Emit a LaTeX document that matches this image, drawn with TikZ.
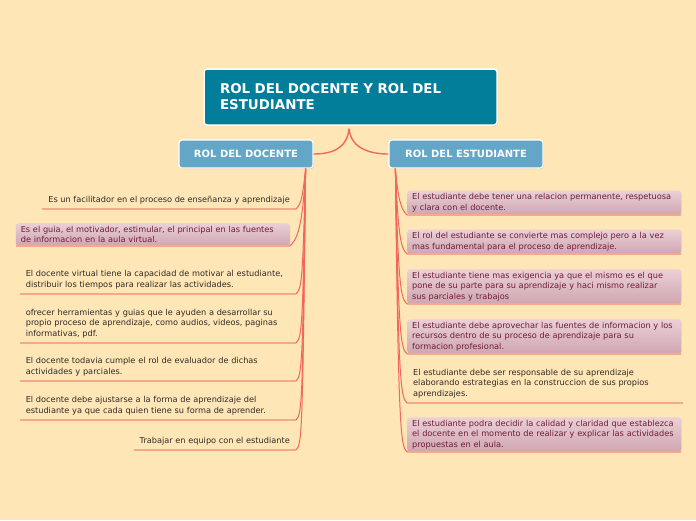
\documentclass[tikz,border=0pt]{standalone}
\usepackage{fontspec}
\setmainfont{DejaVu Sans}
\usepackage{xcolor}
\usetikzlibrary{positioning,calc,shadows}

\definecolor{paper}{HTML}{FFE6B6}
\definecolor{rootteal}{HTML}{037E9A}
\definecolor{branchblue}{HTML}{64A6C8}
\definecolor{linkred}{HTML}{F2675C}
\definecolor{linepeach}{HTML}{F7A88C}
\definecolor{boxtop}{HTML}{EBD0D5}
\definecolor{boxbot}{HTML}{CFA6B1}
\definecolor{wine}{HTML}{6C1D36}
\definecolor{ink}{HTML}{2E2A26}

\begin{document}
\begin{tikzpicture}[
  x=1pt, y=-1pt,
  rootbox/.style={draw=white, line width=1.5pt, fill=rootteal, rounded corners=3pt,
                  minimum width=293pt, minimum height=56pt, inner xsep=15pt,
                  text width=261pt, align=left, text=white,
                  font=\fontsize{13.4}{16}\selectfont\bfseries,
                  drop shadow={opacity=0.3, shadow xshift=0.8pt, shadow yshift=-1pt}},
  branchbox/.style={draw=white, line width=1.2pt, fill=branchblue, rounded corners=3pt,
                    minimum height=28pt, text=white,
                    font=\fontsize{10}{12}\selectfont\bfseries,
                    drop shadow={opacity=0.3, shadow xshift=0.8pt, shadow yshift=-1pt}},
  leaf/.style={text=ink, inner xsep=6pt, inner ysep=5pt, align=left,
               font=\fontsize{8.2}{10.3}\selectfont},
  % shaded leaves share the leaf font, only the colours change
  lbox/.style={leaf, text=wine, inner xsep=5pt, inner ysep=3pt, rounded corners=3pt,
               top color=boxtop, bottom color=boxbot,
               drop shadow={opacity=0.2, shadow xshift=0.5pt, shadow yshift=-0.8pt}},
  link/.style={draw=linkred, line width=1pt},
  rootlink/.style={draw=linkred, line width=1.4pt},
  uline/.style={draw=linepeach, line width=1.2pt},
]

\useasboundingbox[fill=paper] (0,0) rectangle (696,520);

%%---- Root and branches ---------------------------------------------
\node[rootbox] (root) at (350.5,97) {ROL DEL DOCENTE Y ROL DEL\\ESTUDIANTE};

\node[branchbox, minimum width=134pt] (doc) at (246,154) {ROL DEL DOCENTE};
\node[branchbox, minimum width=154pt] (est) at (466,154) {ROL DEL ESTUDIANTE};

\coordinate (rootTip) at ($(root.south)+(-1.5,3)$);
\draw[rootlink] (rootTip) .. controls ($(rootTip)+(-2,20)$) and ($(doc.east)+(18,0)$) .. (doc.east);
\draw[rootlink] (rootTip) .. controls ($(rootTip)+(2,20)$) and ($(est.west)+(-18,0)$) .. (est.west);

%%---- Left side: docente --------------------------------------------
\node[leaf, anchor=south east] (d1) at (296,209)
  {Es un facilitador en el proceso de enseñanza y aprendizaje};
\node[lbox, anchor=south east, text width=264pt] (d2) at (290,246)
  {Es el guia, el motivador, estimular, el principal en las fuentes\\de informacion en la aula virtual.};
\node[leaf, anchor=south east, text width=264pt] (d3) at (296,294)
  {El docente virtual tiene la capacidad de motivar al estudiante,\\distribuir los tiempos para realizar las actividades.};
\node[leaf, anchor=south east, text width=264pt] (d4) at (296,343)
  {ofrecer herramientas y guias que le ayuden a desarrollar su\\propio proceso de aprendizaje, como audios, videos, paginas\\informativas, pdf.};
\node[leaf, anchor=south east, text width=264pt] (d5) at (296,381)
  {El docente todavia cumple el rol de evaluador de dichas\\actividades y parciales.};
\node[leaf, anchor=south east, text width=264pt] (d6) at (296,420)
  {El docente debe ajustarse a la forma de aprendizaje del\\estudiante ya que cada quien tiene su forma de aprender.};
\node[leaf, anchor=south east] (d7) at (296,450)
  {Trabajar en equipo con el estudiante};

\coordinate (docOut) at ($(doc.south east)+(-8,0)$);
\foreach \n in {d1,d2,d3,d4,d5,d6,d7}{
  \draw[uline] (\n.south west) -- (\n.south east);
  \draw[link] (docOut) .. controls ($(docOut |- \n.south)+(-3,-14)$)
    and ($(\n.south east)+(6,-6)$) .. (\n.south east);
}

%%---- Right side: estudiante ----------------------------------------
\node[lbox, anchor=south west, text width=264pt] (e1) at (407,215)
  {El estudiante debe tener una relacion permanente, respetuosa\\y clara con el docente.};
\node[lbox, anchor=south west, text width=264pt] (e2) at (407,254)
  {El rol del estudiante se convierte mas complejo pero a la vez\\mas fundamental para el proceso de aprendizaje.};
\node[lbox, anchor=south west, text width=264pt] (e3) at (407,304)
  {El estudiante tiene mas exigencia ya que el mismo es el que\\pone de su parte para su aprendizaje y haci mismo realizar\\sus parciales y trabajos};
\node[lbox, anchor=south west, text width=264pt] (e4) at (407,354)
  {El estudiante debe aprovechar las fuentes de informacion y los\\recursos dentro de su proceso de aprendizaje para su\\formacion profesional.};
\node[leaf, anchor=south west, text width=264pt] (e5) at (407,403)
  {El estudiante debe ser responsable de su aprendizaje\\elaborando estrategias en la construccion de sus propios\\aprendizajes.};
\node[lbox, anchor=south west, text width=264pt] (e6) at (407,452)
  {El estudiante podra decidir la calidad y claridad que establezca\\el docente en el momento de realizar y explicar las actividades\\propuestas en el aula.};

\coordinate (estOut) at ($(est.south west)+(7,0)$);
\foreach \n in {e1,e2,e3,e4,e5,e6}{
  \draw[uline] (\n.south west) -- (\n.south east);
  \draw[link] (estOut) .. controls ($(estOut |- \n.south)+(3,-14)$)
    and ($(\n.south west)+(-6,-6)$) .. (\n.south west);
}

\end{tikzpicture}
\end{document}
